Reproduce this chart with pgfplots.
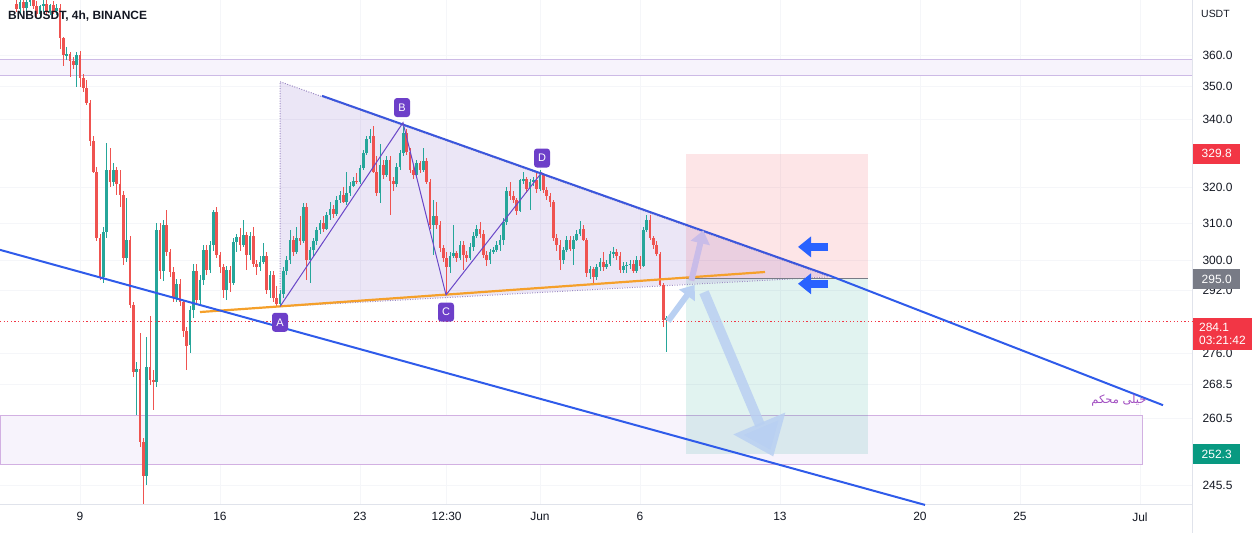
\documentclass[border=0pt]{standalone}
\usepackage{pgfplots}
\pgfplotsset{compat=1.18}
\usepackage{pgfplotstable}
\usepackage{fontspec}
\setmainfont{Liberation Sans}
\newfontfamily\arabicfont[Script=Arabic]{DejaVu Sans}
\TeXXeTstate=1
\usetikzlibrary{arrows.meta}
\definecolor{tvgreen}{HTML}{26A69A}
\definecolor{tvred}{HTML}{EF5350}
\definecolor{lblred}{HTML}{F23645}
\definecolor{lblgray}{HTML}{787B86}
\definecolor{lblteal}{HTML}{089981}
\definecolor{txt}{HTML}{131722}
\definecolor{axc}{HTML}{E0E3EB}
\definecolor{gridc}{HTML}{F5F6F9}
\definecolor{lineblue}{HTML}{2F5BEA}
\definecolor{topblue}{HTML}{3A56DC}
\definecolor{orangel}{HTML}{F5A02A}
\definecolor{abcd}{HTML}{6A48C8}
\definecolor{abcdbox}{HTML}{6D3FC9}
\definecolor{tri}{HTML}{673AB7}
\definecolor{dotc}{HTML}{9C8BC4}
\definecolor{zonefill}{HTML}{F7F3FC}
\definecolor{zoneline}{HTML}{CDBAE6}
\definecolor{zone2line}{HTML}{D2B0E2}
\definecolor{persian}{HTML}{A04CC0}
\definecolor{arrlight}{HTML}{B9D0F2}
\definecolor{arrpurple}{HTML}{C9BCE8}
\definecolor{arrblue}{HTML}{2962FF}

\pgfplotstableread{
k o h l c
5 377 380 374 375
6 375 379 373 377.5
7 377.5 380 374.5 375.5
8 375.5 379 374 377.5
9 377.5 381 376 379
10 379 381 375 376
11 376 378 372.5 373.5
12 373.5 376.5 372.5 376
13 376 379 374 377
14 377 378.5 373 374
15 374 377 373 376.5
16 376.5 378 373.5 374.5
17 374.5 377 373 375.5
18 375.5 377 362 365.5
19 365.5 366 356.7 360
20 359.8 362.7 358.5 360.5
21 360.5 361 353.2 358
22 358 359.5 355.5 357
23 357 361 350 360
24 360 361.5 350 352.8
25 352.8 354 348.5 349.5
26 349.5 352 344.5 345
27 345 346 332 333.5
28 333.5 335 324 324.5
29 324.5 326 305 306
30 306 307 294.7 295.5
31 295.5 309 294 307.5
32 307.5 333 306 325
33 325 331.5 320 321.5
34 321.5 327 320.5 325
35 325 326 318 321
36 321 325 314.4 318
37 318 319 298.7 300.5
38 300.5 317 299.5 305.5
39 305.5 306.5 287.5 288.2
40 288.2 289 270.4 271.5
41 271.5 274 261.3 272.3
42 272.3 281 254 255
43 255 256 241.3 247.4
44 247.4 280.2 245.6 272.8
45 272.8 285.3 268.5 269.6
46 269.6 272 262.5 269.2
47 269.2 310.1 268 308
48 308 310 295 297
49 297 311 294.5 309.5
50 309.5 313.7 301 302.2
51 302.2 303 295.5 296.8
52 296.8 298 289 290
53 290 295 289 293.6
54 293.6 295 288 289
55 289 289.5 280 281.5
56 281.5 282.5 272 278
57 278 288 276.2 286.9
58 286.9 299 285 297
59 297 299 288.5 289.5
60 289.5 296 288.5 294.7
61 294.7 304.1 293.5 302.7
62 302.7 304 296 297.4
63 297.4 305 296.5 304.1
64 304.1 313.7 302.5 313
65 313 314.5 300.5 301.4
66 301.4 302 296.5 298
67 298 299 290 292
68 292 298.5 289.5 297.4
69 297.4 298.5 291.5 294
70 294 306 293.5 304.8
71 304.8 307 302 306.1
72 306.1 308.8 302.5 304
73 304 310.9 303.5 306.8
74 306.8 307.5 297.4 301.4
75 301.4 307.5 300 306.5
76 306.5 309 298 299
77 299 300 296 298
78 298 301 297 299.5
79 299.5 304.5 299 301
80 301 302 291 292
81 292 297 290 296
82 296 297 289 290
83 290 293 287.6 288.5
84 288.5 292 287.8 291
85 291 298 290 297
86 297 301 296 300
87 300 308 299 305.4
88 305.4 306.5 301 302
89 302 309 301.5 306
90 306 312 304 305
91 305 315.5 304.5 314.5
92 314.5 315.5 294.7 300
93 300 303.5 294 302.7
94 302.7 306 301 305
95 305 309 304 308
96 308 311 307 310
97 310 312 307.5 308.5
98 308.5 313 308 312.3
99 312.3 316 311 314
100 314 315 311.5 312.5
101 312.5 317.5 312 316.5
102 316.5 319 315.5 318
103 318 320 315.5 316
104 316 324.5 315 318.5
105 318.5 321.5 317.5 320.5
106 320.5 323 320 322
107 322 324 321 321.5
108 321.5 326.5 321 325.5
109 325.5 331 325 330
110 330 335 329.5 334
111 334 337 333 335
112 335 338 324 324.5
113 324.5 329 317.5 318.5
114 318.5 332.5 315.5 326.5
115 326.5 328 322.5 323.5
116 323.5 329 323 328
117 328 329 312.3 322
118 322 323 319 321
119 321 327 320 326
120 326 331 325 330
121 330 338.4 329 335.8
122 335.8 337 329.5 330.4
123 330.4 331.5 324 325
124 325 326.5 322.5 323.5
125 323.5 328 323 327
126 327 327.5 324 325
127 325 331.5 324.5 327.5
128 327.5 328.5 321 321.5
129 321.5 322.5 308.5 309.5
130 309.5 316.5 301.4 312
131 312 316 308.5 309.5
132 309.5 310.5 302 303.2
133 303.2 304 299.5 300.5
134 300.5 302 290.8 298
135 298 302 296.5 301
136 301 309.5 300.5 301.8
137 301.8 302.5 299.5 300.5
138 300.5 305 300 304
139 304 305 297.4 301.4
140 301.4 302.5 299.5 300.5
141 300.5 304.5 300 303.5
142 303.5 307.5 302.5 306.5
143 306.5 309.5 306 308.5
144 308.5 310.2 306 307
145 307 308 300.5 301.4
146 301.4 302.5 298.5 300
147 300 303 299 302
148 302 303.5 301.5 302.7
149 302.7 305 302 304
150 304 306.8 302.5 305.4
151 305.4 311.5 304 310.4
152 310.4 320 309.5 319
153 319 321.6 316.5 317.5
154 317.5 319 315.5 316.5
155 316.5 317 312.3 313.5
156 313.5 322.5 313 322
157 322 324.5 321 322.5
158 322.5 323 318.5 319.5
159 319.5 322.5 313.7 321.5
160 321.5 323 320.5 322.2
161 322.2 324.5 318.5 319.5
162 319.5 325 319 323.5
163 323.5 324 318.5 319.4
164 319.4 320 316.5 317.5
165 317.5 318.5 314.5 316
166 316 316.5 305 306
167 306 307 302.5 304
168 304 305.5 297.4 300
169 300 303.5 299 302.7
170 302.7 306.5 302 305.4
171 305.4 306.5 302.5 303
172 303 306.5 298.7 305.5
173 305.5 308 305 307
174 307 310.5 306.5 308.5
175 308.5 309.5 305 305.5
176 305.5 306 295.5 296.5
177 296.5 298.5 295 297.5
178 297.5 298 293.5 295.5
179 295.5 299 294.7 298
180 298 300.5 297 299.5
181 299.5 302 297 298
182 298 300 297.5 299
183 299 302.5 298.5 301.5
184 301.5 303.5 300.5 302
185 302 303 300 301
186 301 302 296.5 297.4
187 297.4 299.5 296.5 298.5
188 298.5 299.5 296.5 298.7
189 298.7 300 297.5 299
190 299 300 296.5 297
191 297 301 296.5 300
192 300 301 297.5 298.5
193 298.5 309 298 308
194 308 312.3 307.5 310.9
195 310.9 312.3 305.5 306
196 306 306.5 303 304
197 304 305 301 301.5
198 301.5 302 293 293.5
199 293.5 294 282.6 284.4
200 284.4 285.5 276.5 284.8
201 284.8 285.2 283.8 284.1
}\candles

\pgfplotsset{candle/.style={no markers, draw=none, forget plot,
  error bars/.cd, y dir=both, y explicit, error mark=none}}

\begin{document}
\begin{tikzpicture}
\path[use as bounding box] (0,0) rectangle (1260bp,533bp);
\begin{axis}[
  at={(0bp,28bp)}, anchor=south west,
  scale only axis, width=1192bp, height=505bp,
  xmin=0, xmax=357.6, ymin=241.2, ymax=378.2, ymode=log,
  axis x line*=bottom, axis y line*=right,
  axis line style={draw=axc, line width=1bp, -},
  xtick={24,66,108,134,162,192,234,276,306,342},
  xticklabels={9,16,23,12:30,Jun,6,13,20,25,Jul},
  ytick={245.5,260.5,268.5,276,292,300,310,320,340,350,360},
  yticklabels={245.5,260.5,268.5,276.0,292.0,300.0,310.0,320.0,340.0,350.0,360.0},
  major tick length=0pt,
  tick label style={font=\fontsize{12}{14}\selectfont, text=txt},
  yticklabel style={anchor=west, xshift=7bp},
  xticklabel style={anchor=north, yshift=-4bp},
  grid=major, grid style={draw=gridc, line width=0.8bp},
  clip=false,
]
% zones
\addplot[fill=zonefill, draw=none, forget plot] coordinates {(0,358.5) (357.6,358.5) (357.6,353.5) (0,353.5)} -- cycle;
\addplot[draw=zoneline, line width=1bp, forget plot] coordinates {(0,358.5) (357.6,358.5)};
\addplot[draw=zoneline, line width=1bp, forget plot] coordinates {(0,353.5) (357.6,353.5)};
\addplot[fill=zonefill, draw=zone2line, line width=1bp, forget plot] coordinates {(0,261.1) (342.6,261.1) (342.6,250.0) (0,250.0)} -- cycle;
% position boxes
\addplot[fill=lblred, fill opacity=0.13, draw=none, forget plot] coordinates {(205.8,329.8) (260.4,329.8) (260.4,295) (205.8,295)} -- cycle;
\addplot[fill=lblteal, fill opacity=0.12, draw=none, forget plot] coordinates {(205.8,295) (260.4,295) (260.4,252.3) (205.8,252.3)} -- cycle;
% triangle
\addplot[fill=tri, fill opacity=0.13, draw=none, forget plot] coordinates {(84,351.6) (248.4,295.7) (84,287.8)} -- cycle;
\addplot[draw=dotc, line width=1bp, dash pattern=on 1bp off 1.5bp, forget plot] coordinates {(84,287.8) (84,351.6) (248.4,295.7)};
\addplot[draw=dotc, line width=1bp, dash pattern=on 1bp off 1.5bp, forget plot] coordinates {(84,287.8) (248.4,295.5)};
% candles: wicks
\addplot[candle, error bar style={draw=tvgreen, line width=1bp}]
  table[x=k, y expr={\thisrow{c}<\thisrow{o} ? nan : (\thisrow{h}+\thisrow{l})/2}, y error expr={(\thisrow{h}-\thisrow{l})/2}] {\candles};
\addplot[candle, error bar style={draw=tvred, line width=1bp}]
  table[x=k, y expr={\thisrow{c}<\thisrow{o} ? (\thisrow{h}+\thisrow{l})/2 : nan}, y error expr={(\thisrow{h}-\thisrow{l})/2}] {\candles};
% candles: bodies
\addplot[candle, error bar style={draw=tvgreen, line width=2.5bp}]
  table[x=k, y expr={\thisrow{c}<\thisrow{o} ? nan : (\thisrow{o}+\thisrow{c})/2}, y error expr={max(abs(\thisrow{c}-\thisrow{o})/2,0.15)}] {\candles};
\addplot[candle, error bar style={draw=tvred, line width=2.5bp}]
  table[x=k, y expr={\thisrow{c}<\thisrow{o} ? (\thisrow{o}+\thisrow{c})/2 : nan}, y error expr={max(abs(\thisrow{c}-\thisrow{o})/2,0.15)}] {\candles};
% last price line
\addplot[draw=lblred, line width=1.2bp, dash pattern=on 1.2bp off 2.4bp, forget plot] coordinates {(0,284.1) (357.6,284.1)};
% position mid line
\addplot[draw=lblgray, line width=0.8bp, forget plot] coordinates {(205.8,295) (260.4,295)};
% orange support
\addplot[draw=orangel, line width=2.2bp, forget plot] coordinates {(60,286.4) (229.5,296.8)};
% blue lines
\addplot[draw=lineblue, line width=2bp, forget plot] coordinates {(0,302.7) (277.5,241.2)};
\addplot[draw=topblue, line width=2bp, forget plot] coordinates {(96.6,347.2) (249,295.8)};
\addplot[draw=lineblue, line width=2bp, forget plot] coordinates {(249,295.8) (348.9,263.6)};
% ABCD
\addplot[draw=abcd, line width=1bp, forget plot] coordinates {(84,287.8) (120.9,339) (133.8,290.8) (162.6,324.4)};
% arrows
\addplot[draw=arrlight, draw opacity=0.85, line width=10bp, -{Triangle[length=36bp, width=54bp]}, forget plot] coordinates {(211.2,291.5) (232,251.8)};
\addplot[draw=arrlight, line width=6bp, -{Triangle[length=13bp, width=19bp]}, forget plot] coordinates {(200.4,284.1) (208.4,293.4)};
\addplot[draw=arrpurple, line width=6bp, -{Triangle[length=13bp, width=19bp]}, forget plot] coordinates {(207.4,294.5) (211,308)};
\addplot[draw=arrblue, line width=8bp, -{Triangle[length=13bp, width=20bp]}, forget plot] coordinates {(248.4,303.5) (239.4,303.5)};
\addplot[draw=arrblue, line width=8bp, -{Triangle[length=13bp, width=20bp]}, forget plot] coordinates {(248.4,293.7) (239.4,293.7)};
% pattern labels
\node[fill=abcdbox, text=white, rounded corners=3bp, inner sep=0pt, minimum width=16bp, minimum height=19bp, font=\fontsize{11}{12}\selectfont] at (axis cs:84,283.8) {A};
\node[fill=abcdbox, text=white, rounded corners=3bp, inner sep=0pt, minimum width=16bp, minimum height=19bp, font=\fontsize{11}{12}\selectfont] at (axis cs:120.6,343.6) {B};
\node[fill=abcdbox, text=white, rounded corners=3bp, inner sep=0pt, minimum width=16bp, minimum height=19bp, font=\fontsize{11}{12}\selectfont] at (axis cs:133.8,286.4) {C};
\node[fill=abcdbox, text=white, rounded corners=3bp, inner sep=0pt, minimum width=16bp, minimum height=19bp, font=\fontsize{11}{12}\selectfont] at (axis cs:162.6,328.5) {D};
\node[anchor=east, text=persian, inner sep=0pt, font=\arabicfont\fontsize{11.5}{12}\selectfont] at (axis cs:344,264.6) {\beginR خیلی محکم\endR};
% coordinates for right-axis labels
\coordinate (L1) at (axis cs:357.6,329.8);
\coordinate (L2) at (axis cs:357.6,295);
\coordinate (L3) at (axis cs:357.6,280.9);
\coordinate (L4) at (axis cs:357.6,252.3);
\end{axis}
\draw[axc, line width=1bp] (1192bp,0) -- (1192bp,28bp);
\path (0,533bp) ++(8bp,-16bp) node[anchor=west, inner sep=0pt, text=txt, font=\bfseries\fontsize{12}{14}\selectfont] {BNBUSDT, 4h, BINANCE};
\node[anchor=west, inner sep=0pt, text=txt, font=\fontsize{10.5}{12}\selectfont] at (1201bp,519bp) {USDT};
\node[anchor=west, fill=lblred, text=white, inner sep=0pt, minimum width=47bp, minimum height=20bp, font=\fontsize{12}{14}\selectfont] at ([xshift=1bp]L1) {329.8};
\node[anchor=west, fill=lblgray, text=white, inner sep=0pt, minimum width=47bp, minimum height=20bp, font=\fontsize{12}{14}\selectfont] at ([xshift=1bp]L2) {295.0};
\node[anchor=west, fill=lblred, text=white, inner xsep=6bp, inner ysep=2bp, minimum width=57bp, minimum height=32bp, align=left, font=\fontsize{12}{14}\selectfont] at ([xshift=1bp]L3) {284.1\\03:21:42};
\node[anchor=west, fill=lblteal, text=white, inner sep=0pt, minimum width=47bp, minimum height=20bp, font=\fontsize{12}{14}\selectfont] at ([xshift=1bp]L4) {252.3};
\end{tikzpicture}
\end{document}
